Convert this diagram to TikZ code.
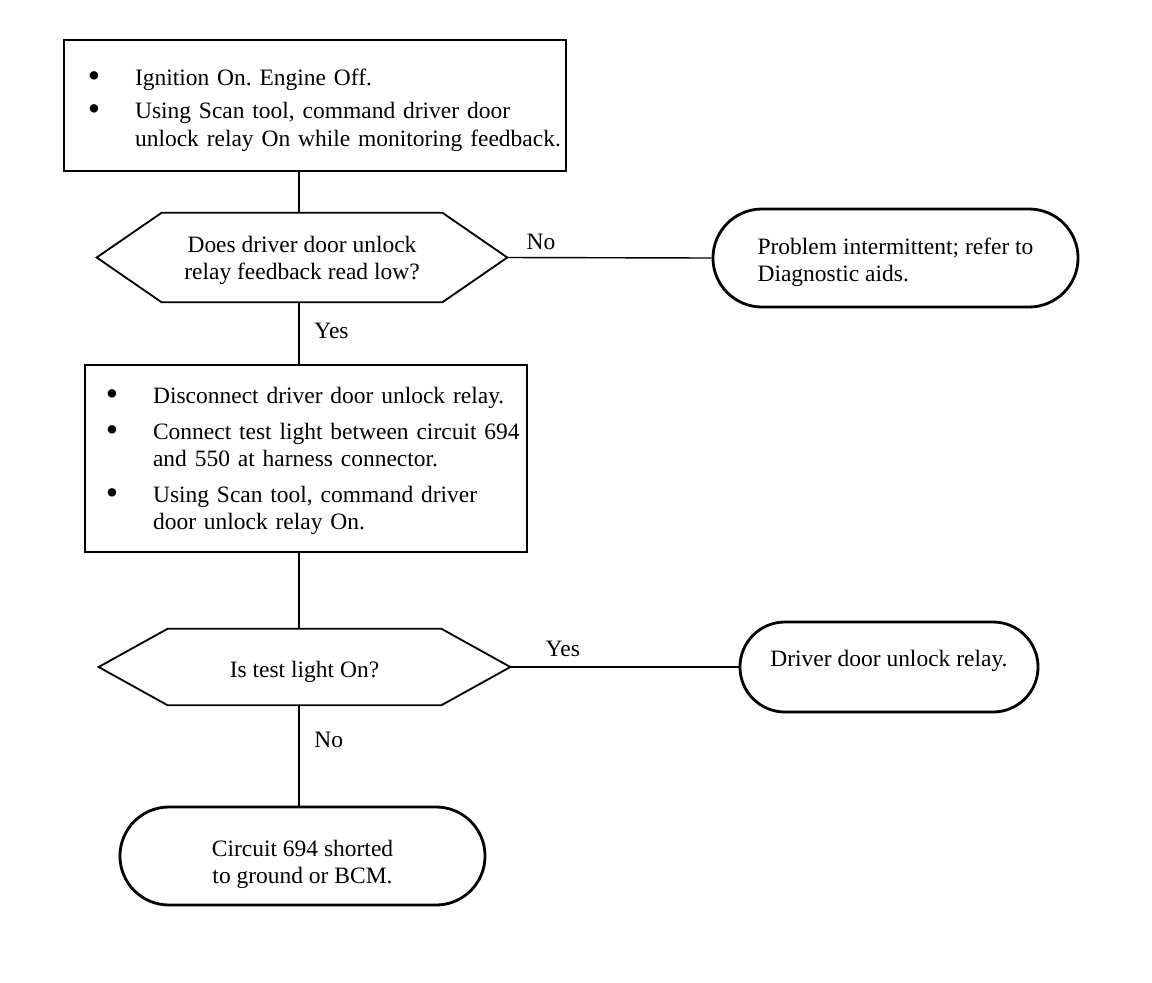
\documentclass[tikz,border=0pt]{standalone}
\usepackage{fontspec}
\setmainfont{Liberation Serif}
\usepackage{tikz}
\usetikzlibrary{shapes.misc}
\frenchspacing
\def\hexq#1#2{\draw[hexline] (#1.west) -- ([xshift=#2]#1.north west) -- ([xshift=-#2]#1.north east) -- (#1.east) -- ([xshift=-#2]#1.south east) -- ([xshift=#2]#1.south west) -- cycle}
\def\lowtext#1#2#3{\raisebox{-#1}[\height][\depth]{\begin{tabular}{@{}#2@{}}#3\end{tabular}}}
\def\dotb{\raisebox{-1.6pt}{\scalebox{1.5}{\textbullet}}}
\tikzstyle{everynode}=[font=\fontsize{16.7}{19.5}\selectfont]
\tikzstyle{stepbox}=[everynode,draw,line width=1.5pt,rectangle,align=left,inner ysep=0pt]
\tikzstyle{query}=[everynode,rectangle,inner sep=0pt]
\tikzstyle{hexline}=[line width=1.3pt,line join=miter]
\tikzstyle{endcap}=[everynode,draw,line width=2pt,rounded rectangle,inner sep=0pt]
\tikzstyle{link}=[line width=1pt]
\tikzstyle{tag}=[everynode]

\begin{document}
\begin{tikzpicture}[x=0.025cm,y=-0.025cm]
  \useasboundingbox (0,0) rectangle (1152,982);
  \coordinate (spine) at (299,0);
  % first steps
  \node[stepbox,minimum width=12.55cm,minimum height=3.275cm,text width=11.35cm,inner xsep=0.6cm] (step1) at (315,105.5) {%
    \lowtext{3.5pt}{p{33.5pt}@{}l}{%
      \dotb & Ignition On. Engine Off.\\[4pt]
      \dotb & Using Scan tool, command driver door\\
            & unlock relay On while monitoring feedback.}};
  \node[query,minimum width=10.25cm,minimum height=2.225cm] (ask1) at (302,257.5) {\lowtext{2pt}{c}{Does driver door unlock\\relay feedback read low?}};
  \hexq{ask1}{1.625cm};
  \node[endcap,minimum width=9.125cm,minimum height=2.45cm] (end1) at (895.5,258) {\lowtext{3.2pt}{l}{Problem intermittent; refer to\\Diagnostic aids.}};
  % test light
  \node[stepbox,minimum width=11.05cm,minimum height=4.675cm,text width=10cm,inner xsep=0.525cm] (step2) at (306,458.5) {%
    \lowtext{1.8pt}{p{33.5pt}@{}l}{%
      \dotb & Disconnect driver door unlock relay.\\[6pt]
      \dotb & Connect test light between circuit 694\\
            & and 550 at harness connector.\\[6pt]
      \dotb & Using Scan tool, command driver\\
            & door unlock relay On.}};
  \node[query,minimum width=10.275cm,minimum height=1.9cm] (ask2) at (304.5,667) {\lowtext{3.5pt}{c}{Is test light On?}};
  \hexq{ask2}{1.725cm};
  \node[endcap,minimum width=7.45cm,minimum height=2.25cm] (end2) at (889,667) {\lowtext{-4.3pt}{c}{Driver door unlock relay.}};
  \node[endcap,minimum width=9.125cm,minimum height=2.45cm] (end3) at (302.5,856) {\lowtext{6pt}{c}{Circuit 694 shorted\\to ground or BCM.}};
  % connectors
  \draw[link] (step1.south -| spine) -- (ask1.north -| spine);
  \draw[link] (ask1.east) -- node[tag,pos=0.165,above,yshift=2pt] {No} (end1.west);
  \draw[link] (ask1.south -| spine) -- node[tag,pos=0.46,right,xshift=0.25cm] {Yes} (step2.north -| spine);
  \draw[link] (step2.south -| spine) -- (ask2.north -| spine);
  \draw[link] (ask2.east) -- node[tag,pos=0.23,above,yshift=3.5pt] {Yes} (end2.west);
  \draw[link] (ask2.south -| spine) -- node[tag,pos=0.35,right,xshift=0.25cm] {No} (end3.north -| spine);
\end{tikzpicture}
\end{document}
